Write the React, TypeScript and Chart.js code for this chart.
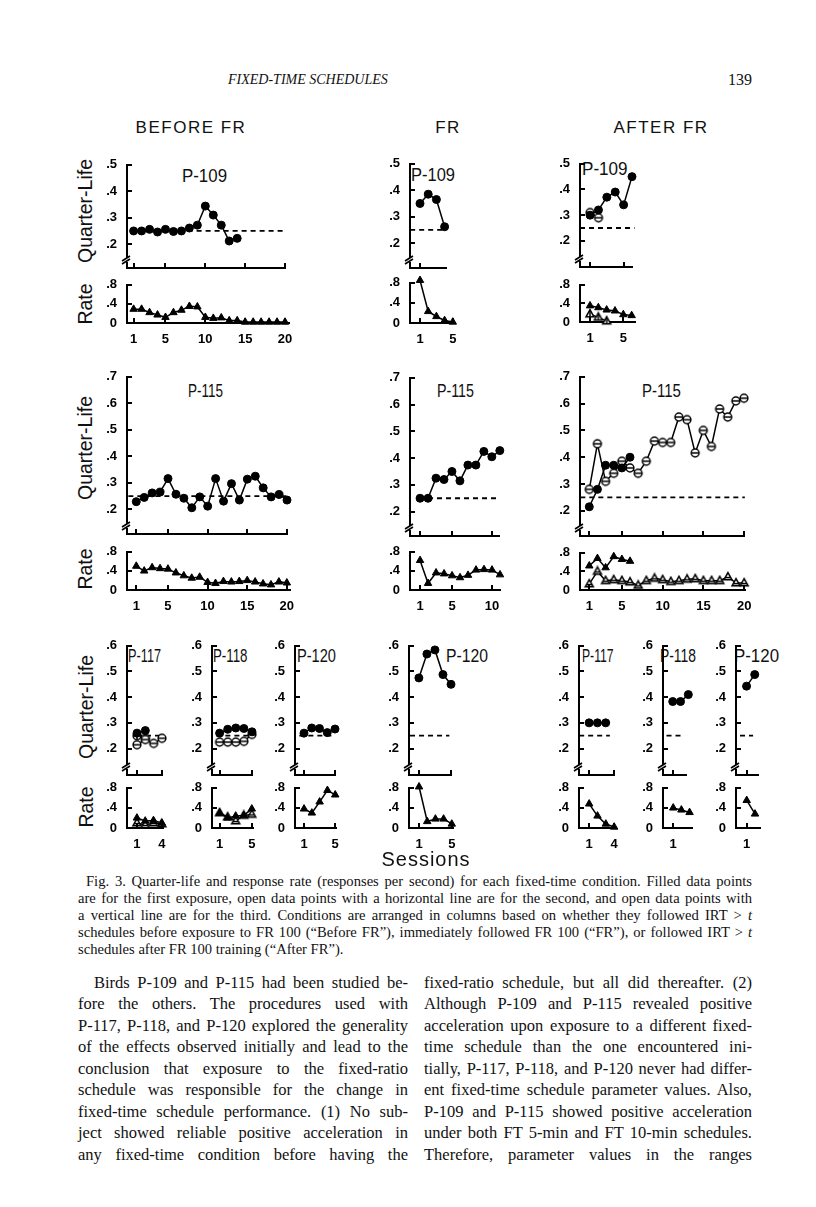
import React, { useEffect, useRef } from "react";
import { Chart, registerables } from "chart.js";
Chart.register(...registerables);

// ---------------- tick labels ----------------
const qlTicksA = [0.2, 0.3, 0.4, 0.5];
const qlTicksB = [0.2, 0.3, 0.4, 0.5, 0.6, 0.7];
const qlTicksC = [0.2, 0.3, 0.4, 0.5, 0.6];
const rateTicks = [0, 0.4, 0.8];
const sess20 = [1, 5, 10, 15, 20];
const sess10 = [1, 5, 10];
const sess5 = [1, 5];
const sess4 = [1, 4];
const sess1 = [1];
const criterion = 0.25;

// ---------------- data: P-109 ----------------
const beforeP109QL = [0.25, 0.25, 0.256, 0.246, 0.256, 0.248, 0.25, 0.261, 0.272, 0.344, 0.31, 0.272, 0.212, 0.222];
const beforeP109Rate = [0.29, 0.29, 0.22, 0.17, 0.12, 0.22, 0.27, 0.35, 0.34, 0.12, 0.1, 0.11, 0.05, 0.05, 0.02, 0.02, 0.02, 0.02, 0.02, 0.02];
const frP109QL = [0.35, 0.385, 0.365, 0.262];
const frP109Rate = [0.85, 0.23, 0.13, 0.05, 0.02];
const afterP109QL1 = [0.3, 0.32, 0.37, 0.39, 0.34, 0.45];
const afterP109QL2 = [0.31, 0.29];
const afterP109Rate1 = [0.35, 0.31, 0.26, 0.24, 0.16, 0.14];
const afterP109Rate3 = [0.17, 0.1, 0.02];

// ---------------- data: P-115 ----------------
const beforeP115QL = [0.229, 0.245, 0.262, 0.265, 0.316, 0.257, 0.242, 0.206, 0.247, 0.212, 0.316, 0.231, 0.297, 0.235, 0.314, 0.325, 0.281, 0.247, 0.256, 0.235];
const beforeP115Rate = [0.5, 0.4, 0.47, 0.45, 0.44, 0.36, 0.3, 0.25, 0.27, 0.16, 0.14, 0.18, 0.17, 0.18, 0.2, 0.17, 0.13, 0.11, 0.17, 0.15];
const frP115QL = [0.25, 0.25, 0.325, 0.32, 0.35, 0.315, 0.374, 0.374, 0.425, 0.405, 0.428];
const frP115Rate = [0.62, 0.14, 0.36, 0.34, 0.3, 0.26, 0.31, 0.42, 0.43, 0.42, 0.32];
const afterP115QL1 = [0.215, 0.28, 0.37, 0.37, 0.36, 0.4];
const afterP115QL2 = [0.28, 0.45, 0.31, 0.34, 0.385, 0.36, 0.34, 0.385, 0.46, 0.455, 0.455, 0.55, 0.54, 0.416, 0.5, 0.44, 0.58, 0.55, 0.61, 0.62];
const afterP115Rate1 = [0.52, 0.68, 0.48, 0.72, 0.66, 0.62];
const afterP115Rate2 = [0.13, 0.4, 0.2, 0.22, 0.2, 0.17, 0.1, 0.2, 0.25, 0.22, 0.18, 0.2, 0.23, 0.24, 0.2, 0.2, 0.2, 0.28, 0.15, 0.15];

// ---------------- data: P-117, P-118, P-120 ----------------
const beforeP117QL1 = [0.26, 0.27];
const beforeP117QL2 = [0.215, 0.235, 0.22, 0.24];
const beforeP117QL3 = [0.25, 0.24];
const beforeP117Rate1 = [0.2, 0.14, 0.15, 0.1];
const beforeP117Rate2 = [0.1, 0.06, 0.1, 0.08];
const beforeP118QL1 = [0.26, 0.275, 0.28, 0.278, 0.265];
const beforeP118QL2 = [0.225, 0.225, 0.225, 0.228, 0.255];
const beforeP118Rate1 = [0.3, 0.2, 0.24, 0.25, 0.38];
const beforeP118Rate2 = [0.3, 0.22, 0.14, 0.25, 0.27];
const beforeP120QL = [0.26, 0.28, 0.278, 0.262, 0.276];
const beforeP120Rate = [0.38, 0.3, 0.52, 0.75, 0.66];
const frP120QL = [0.475, 0.568, 0.584, 0.488, 0.45];
const frP120Rate = [0.82, 0.13, 0.18, 0.18, 0.08];
const afterP117QL = [0.3, 0.3, 0.3];
const afterP117Rate = [0.48, 0.24, 0.08, 0.02];
const afterP118QL = [0.383, 0.383, 0.41];
const afterP118Rate = [0.4, 0.36, 0.31];
const afterP120QL = [0.443, 0.488];
const afterP120Rate = [0.55, 0.28];

// ---------------- layout ----------------
const YW = 24, PT = 9, PR = 14, XH = 24;
const SANS = '"Liberation Sans", Arial, Helvetica, sans-serif';
const SERIF = '"Liberation Serif", "Times New Roman", Times, serif';

type Marker = "dot" | "tri" | "dotH" | "dotV" | "triH" | "triV";
type Series = { v: number[]; m: Marker };
type Panel = {
  x0: number; x1: number; yTop: number; yBot: number;
  xMin: number; xMax: number; yMin: number; yMax: number;
  xTicks: number[]; yTicks: number[]; labels: boolean; brk: boolean;
  series: Series[]; crit?: number[];
};

const ql = (o: Partial<Panel>): Panel => ({ labels: false, brk: true, yTicks: qlTicksA, ...o } as Panel);
const rt = (o: Partial<Panel>): Panel => ({ labels: true, brk: false, yTicks: rateTicks, yMin: 0, yMax: 0.8, ...o } as Panel);

const panels: Panel[] = [
  // Row 1
  ql({ x0: 127, x1: 285, yTop: 164.3, yBot: 268.3, xMin: 0.17, xMax: 20, yMin: 0.11, yMax: 0.5, xTicks: sess20, series: [{ v: beforeP109QL, m: "dot" }], crit: [1, 20] }),
  rt({ x0: 127, x1: 289, yTop: 284, yBot: 323.3, xMin: 0.17, xMax: 20.5, xTicks: sess20, series: [{ v: beforeP109Rate, m: "tri" }] }),
  ql({ x0: 410, x1: 446, yTop: 163.3, yBot: 268.3, xMin: -0.22, xMax: 4.17, yMin: 0.106, yMax: 0.5, xTicks: sess1, series: [{ v: frP109QL, m: "dot" }], crit: [-0.2, 4] }),
  rt({ x0: 410, x1: 455, yTop: 282, yBot: 323, xMin: -0.22, xMax: 5.27, xTicks: sess5, series: [{ v: frP109Rate, m: "tri" }] }),
  ql({ x0: 580, x1: 632, yTop: 163.3, yBot: 267.3, xMin: -0.2, xMax: 6.0, yMin: 0.098, yMax: 0.5, xTicks: sess5, series: [{ v: afterP109QL1, m: "dot" }, { v: afterP109QL2, m: "dotH" }], crit: [-0.2, 6.3] }),
  rt({ x0: 580, x1: 635, yTop: 284, yBot: 322.3, xMin: -0.2, xMax: 6.4, xTicks: sess5, series: [{ v: afterP109Rate1, m: "tri" }, { v: afterP109Rate3, m: "triV" }] }),
  // Row 2
  ql({ x0: 127, x1: 286.7, yTop: 376, yBot: 534, xMin: -0.17, xMax: 20, yMin: 0.107, yMax: 0.7, yTicks: qlTicksB, xTicks: sess20, series: [{ v: beforeP115QL, m: "dot" }], crit: [0, 20.3] }),
  rt({ x0: 127, x1: 290, yTop: 551, yBot: 589.5, xMin: -0.17, xMax: 20.4, xTicks: sess20, series: [{ v: beforeP115Rate, m: "tri" }] }),
  ql({ x0: 410, x1: 499, yTop: 376.5, yBot: 535, xMin: -0.26, xMax: 10.9, yMin: 0.109, yMax: 0.7, yTicks: qlTicksB, xTicks: sess10, series: [{ v: frP115QL, m: "dot" }], crit: [2, 11] }),
  rt({ x0: 410, x1: 500, yTop: 551, yBot: 589.5, xMin: -0.26, xMax: 11, xTicks: sess10, series: [{ v: frP115Rate, m: "tri" }] }),
  ql({ x0: 580, x1: 744, yTop: 376, yBot: 536, xMin: -0.14, xMax: 20, yMin: 0.106, yMax: 0.7, yTicks: qlTicksB, xTicks: sess20, series: [{ v: afterP115QL1, m: "dot" }, { v: afterP115QL2, m: "dotH" }], crit: [-0.1, 20.1] }),
  rt({ x0: 580, x1: 745, yTop: 552, yBot: 590, xMin: -0.14, xMax: 20.1, xTicks: sess20, series: [{ v: afterP115Rate1, m: "tri" }, { v: afterP115Rate2, m: "triH" }] }),
  // Row 3 - before FR
  ql({ x0: 127, x1: 161.7, yTop: 645, yBot: 775, xMin: -0.2, xMax: 4, yMin: 0.097, yMax: 0.6, yTicks: qlTicksC, xTicks: sess4, series: [{ v: beforeP117QL1, m: "dot" }, { v: beforeP117QL2, m: "dotH" }, { v: beforeP117QL3, m: "dotV" }], crit: [1, 4] }),
  rt({ x0: 127, x1: 163, yTop: 787, yBot: 828, xMin: -0.2, xMax: 4.15, xTicks: sess4, series: [{ v: beforeP117Rate1, m: "tri" }, { v: beforeP117Rate2, m: "triH" }] }),
  ql({ x0: 211.7, x1: 251.7, yTop: 645, yBot: 775, xMin: 0.06, xMax: 5, yMin: 0.097, yMax: 0.6, yTicks: qlTicksC, xTicks: sess5, series: [{ v: beforeP118QL1, m: "dot" }, { v: beforeP118QL2, m: "dotH" }], crit: [0.6, 5] }),
  rt({ x0: 211.7, x1: 253, yTop: 787, yBot: 828, xMin: 0.06, xMax: 5.15, xTicks: sess5, series: [{ v: beforeP118Rate1, m: "tri" }, { v: beforeP118Rate2, m: "triH" }] }),
  ql({ x0: 295, x1: 335, yTop: 645, yBot: 775, xMin: -0.16, xMax: 5, yMin: 0.097, yMax: 0.6, yTicks: qlTicksC, xTicks: sess5, series: [{ v: beforeP120QL, m: "dot" }], crit: [0.4, 5] }),
  rt({ x0: 295, x1: 336, yTop: 787, yBot: 828, xMin: -0.16, xMax: 5.1, xTicks: sess5, series: [{ v: beforeP120Rate, m: "tri" }] }),
  // Row 3 - FR
  ql({ x0: 409.3, x1: 451.7, yTop: 645, yBot: 775, xMin: -0.23, xMax: 5, yMin: 0.097, yMax: 0.6, yTicks: qlTicksC, xTicks: sess5, series: [{ v: frP120QL, m: "dot" }], crit: [-0.1, 4.8] }),
  rt({ x0: 409.3, x1: 453, yTop: 787, yBot: 828, xMin: -0.23, xMax: 5.15, xTicks: sess5, series: [{ v: frP120Rate, m: "tri" }] }),
  // Row 3 - after FR
  ql({ x0: 579.3, x1: 614, yTop: 645, yBot: 775, xMin: -0.22, xMax: 4, yMin: 0.097, yMax: 0.6, yTicks: qlTicksC, xTicks: sess4, series: [{ v: afterP117QL, m: "dot" }], crit: [-0.2, 3.5] }),
  rt({ x0: 579.3, x1: 615, yTop: 787, yBot: 828, xMin: -0.22, xMax: 4.1, xTicks: sess4, series: [{ v: afterP117Rate, m: "tri" }] }),
  ql({ x0: 663.3, x1: 686.7, yTop: 645, yBot: 775, xMin: -0.25, xMax: 2.7, yMin: 0.097, yMax: 0.6, yTicks: qlTicksC, xTicks: sess1, series: [{ v: afterP118QL, m: "dot" }], crit: [0.2, 2.3] }),
  rt({ x0: 663.3, x1: 692, yTop: 787, yBot: 828, xMin: -0.25, xMax: 3.3, xTicks: sess1, series: [{ v: afterP118Rate, m: "tri" }] }),
  ql({ x0: 736, x1: 758.3, yTop: 645, yBot: 775, xMin: -0.29, xMax: 2.4, yMin: 0.097, yMax: 0.6, yTicks: qlTicksC, xTicks: sess1, series: [{ v: afterP120QL, m: "dot" }], crit: [0.2, 1.8] }),
  rt({ x0: 736, x1: 760, yTop: 787, yBot: 828, xMin: -0.29, xMax: 2.6, xTicks: sess1, series: [{ v: afterP120Rate, m: "tri" }] }),
];

// ---------------- markers ----------------
const markerCache: Record<string, HTMLCanvasElement> = {};
function openMarker(m: Marker): HTMLCanvasElement {
  if (markerCache[m]) return markerCache[m];
  const s = 12;
  const c = document.createElement("canvas");
  c.width = s; c.height = s;
  const g = c.getContext("2d")!;
  const k = s / 2;
  g.lineWidth = 1.5; g.strokeStyle = "#000"; g.fillStyle = "#fff";
  g.beginPath();
  if (m.startsWith("dot")) {
    g.arc(k, k, 3.9, 0, Math.PI * 2);
  } else {
    g.moveTo(k, k - 4.4); g.lineTo(k + 4, k + 2.8); g.lineTo(k - 4, k + 2.8); g.closePath();
  }
  g.fill(); g.stroke();
  g.beginPath();
  if (m === "dotH") { g.moveTo(k - 3.9, k); g.lineTo(k + 3.9, k); }
  if (m === "dotV") { g.moveTo(k, k - 3.9); g.lineTo(k, k + 3.9); }
  if (m === "triH") { g.moveTo(k - 2.6, k + 0.6); g.lineTo(k + 2.6, k + 0.6); }
  if (m === "triV") { g.moveTo(k, k - 4.4); g.lineTo(k, k + 2.8); }
  g.stroke();
  markerCache[m] = c;
  return c;
}

const fmt = (v: number) => (v === 0 ? "0" : v.toFixed(1).replace(/^0/, ""));

const decoPlugin = {
  id: "deco",
  afterDatasetsDraw(chart: any, _a: any, opts: any) {
    const ctx = chart.ctx;
    const xs = chart.scales.x, ys = chart.scales.y;
    const left = chart.chartArea.left, bottom = chart.chartArea.bottom;
    ctx.save();
    ctx.strokeStyle = "#000";
    ctx.lineWidth = 2;
    ctx.beginPath();
    xs.ticks.forEach((t: any) => {
      const px = Math.round(xs.getPixelForValue(t.value));
      ctx.moveTo(px, bottom); ctx.lineTo(px, bottom - 5);
    });
    ys.ticks.forEach((t: any) => {
      const py = Math.round(ys.getPixelForValue(t.value));
      ctx.moveTo(left, py); ctx.lineTo(left + 5, py);
    });
    ctx.stroke();
    if (opts && opts.brk) {
      const yc = bottom - 8;
      ctx.fillStyle = "#fff";
      ctx.fillRect(left - 2, yc - 2, 4, 4);
      ctx.lineWidth = 1.6;
      ctx.beginPath();
      ctx.moveTo(left - 5, yc + 4); ctx.lineTo(left + 3, yc - 1);
      ctx.moveTo(left - 5, yc + 1); ctx.lineTo(left + 3, yc - 4);
      ctx.stroke();
    }
    ctx.restore();
  },
};

function MiniChart({ p }: { p: Panel }) {
  const ref = useRef<HTMLCanvasElement>(null);
  const left = Math.round(p.x0 - YW);
  const top = Math.round(p.yTop - PT);
  const W = Math.round(p.x1 - p.x0) + YW + PR;
  const H = Math.round(p.yBot - p.yTop) + PT + XH;
  useEffect(() => {
    const datasets: any[] = p.series.map((s) => {
      const filled = s.m === "dot" || s.m === "tri";
      return {
        data: s.v.map((y, i) => ({ x: i + 1, y })),
        borderColor: "#000",
        borderWidth: 1.5,
        tension: 0,
        clip: false,
        pointStyle: filled ? (s.m === "dot" ? "circle" : "triangle") : openMarker(s.m),
        pointRadius: s.m === "tri" ? 4.3 : 4,
        pointBackgroundColor: "#000",
        pointBorderColor: "#000",
        pointBorderWidth: 1,
      };
    });
    if (p.crit) {
      datasets.push({
        data: p.crit.map((x) => ({ x, y: criterion })),
        borderColor: "#000",
        borderWidth: 1.8,
        borderDash: [5, 4],
        pointRadius: 0,
        clip: false,
      });
    }
    const tickFont = { family: SANS, size: 13, weight: "bold" as const };
    const chart = new Chart(ref.current!, {
      type: "line",
      data: { datasets },
      options: {
        animation: false,
        responsive: false,
        maintainAspectRatio: false,
        events: [],
        layout: { padding: { top: PT, right: PR, bottom: 0, left: 0 } },
        plugins: { legend: { display: false }, tooltip: { enabled: false }, deco: { brk: p.brk } } as any,
        scales: {
          x: {
            type: "linear",
            min: p.xMin,
            max: p.xMax,
            afterBuildTicks: (s: any) => { s.ticks = p.xTicks.map((value) => ({ value })); },
            afterFit: (s: any) => { s.height = XH; },
            grid: { display: false },
            border: { display: true, color: "#000", width: 2 },
            ticks: { display: p.labels, font: tickFont, color: "#000", padding: 1, maxRotation: 0, autoSkip: false, callback: (v: any) => String(v) },
          },
          y: {
            type: "linear",
            min: p.yMin,
            max: p.yMax,
            afterBuildTicks: (s: any) => { s.ticks = p.yTicks.map((value) => ({ value })); },
            afterFit: (s: any) => { s.width = YW; },
            grid: { display: false },
            border: { display: true, color: "#000", width: 2 },
            ticks: { font: tickFont, color: "#000", padding: 2, autoSkip: false, callback: (v: any) => fmt(Number(v)) },
          },
        },
      },
      plugins: [decoPlugin],
    } as any);
    return () => chart.destroy();
  }, [p]);
  return <canvas ref={ref} width={W} height={H} style={{ position: "absolute", left, top, width: W, height: H }} />;
}

// ---------------- texts ----------------
// [text, left edge, centre y, drawn width]
const panelTitles: [string, number, number, number][] = [
  ["P-109", 181.7, 177, 45], ["P-109", 410.7, 176, 44], ["P-109", 581.7, 170, 45.6],
  ["P-115", 188, 392, 36], ["P-115", 436.7, 392, 38], ["P-115", 641.7, 392, 40],
  ["P-117", 128.3, 657, 34], ["P-118", 213, 657, 35.5], ["P-120", 296.7, 657, 39],
  ["P-120", 446, 657, 42],
  ["P-117", 581.7, 657, 32.5], ["P-118", 660, 657, 37], ["P-120", 734, 657, 45],
];
const TITLE_SIZE = 17.5;
const TITLE_EM = 2.668; // "P-###" width in em for Liberation Sans
const columnHeads: [string, number][] = [["BEFORE FR", 191], ["FR", 448], ["AFTER FR", 661]];
const sideLabels: [string, number, number][] = [
  ["Quarter-Life", 85.5, 211], ["Rate", 85.5, 304],
  ["Quarter-Life", 85.5, 448], ["Rate", 85.5, 569],
  ["Quarter-Life", 87, 707], ["Rate", 87, 807],
];

const captionLines: React.ReactNode[] = [
  "Fig. 3. Quarter-life and response rate (responses per second) for each fixed-time condition. Filled data points",
  "are for the first exposure, open data points with a horizontal line are for the second, and open data points with",
  <>a vertical line are for the third. Conditions are arranged in columns based on whether they followed IRT &gt; <i>t</i></>,
  <>schedules before exposure to FR 100 (“Before FR”), immediately followed FR 100 (“FR”), or followed IRT &gt; <i>t</i></>,
  "schedules after FR 100 training (“After FR”).",
];
const leftCol = [
  "Birds P-109 and P-115 had been studied be-",
  "fore the others. The procedures used with",
  "P-117, P-118, and P-120 explored the generality",
  "of the effects observed initially and lead to the",
  "conclusion that exposure to the fixed-ratio",
  "schedule was responsible for the change in",
  "fixed-time schedule performance. (1) No sub-",
  "ject showed reliable positive acceleration in",
  "any fixed-time condition before having the",
];
const rightCol = [
  "fixed-ratio schedule, but all did thereafter. (2)",
  "Although P-109 and P-115 revealed positive",
  "acceleration upon exposure to a different fixed-",
  "time schedule than the one encountered ini-",
  "tially, P-117, P-118, and P-120 never had differ-",
  "ent fixed-time schedule parameter values. Also,",
  "P-109 and P-115 showed positive acceleration",
  "under both FT 5-min and FT 10-min schedules.",
  "Therefore, parameter values in the ranges",
];

function JLine({ x, w, y, size, lh, just, children }: any) {
  return (
    <div
      style={{
        position: "absolute", left: x, top: y - lh / 2, width: w, height: lh,
        fontFamily: SERIF, fontSize: size, lineHeight: lh + "px", color: "#111",
        textAlign: just ? "justify" : "left", textAlignLast: just ? "justify" : "left",
        overflow: "visible",
      } as any}
    >
      {children}
    </div>
  );
}

export default function App() {
  return (
    <div style={{ position: "absolute", left: 0, top: 0, width: 816, height: 1207, background: "#fff", overflow: "hidden", color: "#111" }}>
      <div style={{ position: "absolute", left: 228, top: 70, fontFamily: SERIF, fontStyle: "italic", fontSize: 14, lineHeight: "20px", whiteSpace: "nowrap" }}>FIXED-TIME SCHEDULES</div>
      <div style={{ position: "absolute", right: 816 - 752, top: 70, fontFamily: SERIF, fontSize: 16, lineHeight: "20px" }}>139</div>

      {columnHeads.map(([t, cx], i) => (
        <div key={"h" + i} style={{ position: "absolute", left: cx, top: 127, transform: "translate(-50%,-50%)", fontFamily: SANS, fontSize: 17, letterSpacing: 1.5, whiteSpace: "nowrap", lineHeight: 1 }}>{t}</div>
      ))}
      {sideLabels.map(([t, cx, cy], i) => (
        <div key={"s" + i} style={{ position: "absolute", left: cx, top: cy, transform: "translate(-50%,-50%) rotate(-90deg)", fontFamily: SANS, fontSize: 19.5, whiteSpace: "nowrap", lineHeight: 1 }}>{t}</div>
      ))}
      {panelTitles.map(([t, lx, cy, w], i) => (
        <div key={"t" + i} style={{ position: "absolute", left: lx, top: cy - TITLE_SIZE / 2, transformOrigin: "0 50%", transform: `scaleX(${(w / (TITLE_EM * TITLE_SIZE)).toFixed(3)})`, fontFamily: SANS, fontSize: TITLE_SIZE, whiteSpace: "nowrap", lineHeight: TITLE_SIZE + "px" }}>{t}</div>
      ))}

      {panels.map((p, i) => <MiniChart key={i} p={p} />)}

      <div style={{ position: "absolute", left: 426, top: 859, transform: "translate(-50%,-50%)", fontFamily: SANS, fontSize: 20, letterSpacing: 1, whiteSpace: "nowrap", lineHeight: 1 }}>Sessions</div>

      {captionLines.map((t, i) => (
        <JLine key={"c" + i} x={i === 0 ? 86 : 78} w={i === 0 ? 666 : 674} y={881 + i * 17} size={14.6} lh={17} just={i < captionLines.length - 1}>{t}</JLine>
      ))}
      {leftCol.map((t, i) => (
        <JLine key={"l" + i} x={i === 0 ? 94 : 78} w={i === 0 ? 314 : 330} y={982 + i * 21.5} size={16.5} lh={21} just>{t}</JLine>
      ))}
      {rightCol.map((t, i) => (
        <JLine key={"r" + i} x={424} w={328} y={982 + i * 21.5} size={16.5} lh={21} just>{t}</JLine>
      ))}
    </div>
  );
}
